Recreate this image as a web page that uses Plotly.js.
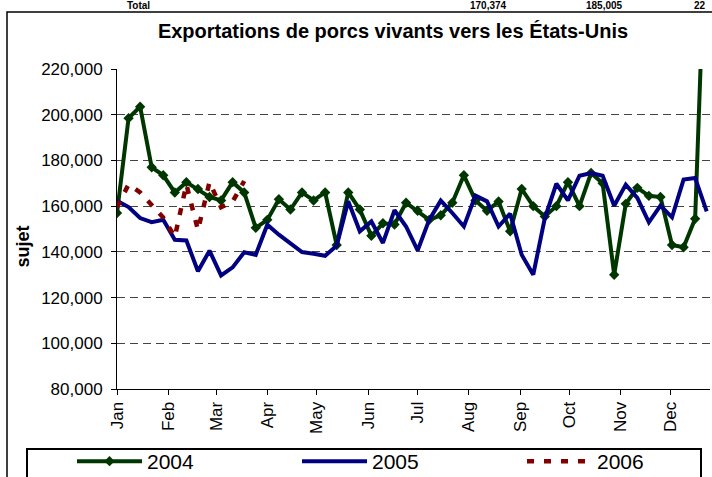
<!DOCTYPE html>
<html>
<head>
<meta charset="utf-8">
<script src="https://cdn.plot.ly/plotly-3.0.1.min.js"></script>
<style>
html,body{margin:0;padding:0;background:#fff;}
#chart{width:712px;height:477px;}
</style>
</head>
<body>
<div id="chart"></div>
<script>
// Week offsets (days from 1 January) of each weekly observation
const weekDays = [0,7,14,21,28,35,42,49,56,63,70,77,84,91,98,105,112,119,126,133,140,147,154,161,168,175,182,189,196,203,210,217,224,231,238,245,252,259,266,273,280,287,294,301,308,315,322,329,336,343,350,357];
// Month tick positions (days from 1 January, leap year) and labels
const monthDays = [0,31,60,91,121,152,182,213,244,274,305,335];
const monthLabels = ["Jan","Feb","Mar","Apr","May","Jun","Jul","Aug","Sep","Oct","Nov","Dec"];
const yTicks = [80000,100000,120000,140000,160000,180000,200000,220000];

const seriesNames = ["2004","2005","2006"];
const values2004 = [157000,198500,203500,177000,173500,166000,170500,167500,164000,162500,170500,166000,150500,
  154000,163000,158500,166000,162500,166000,143000,166000,158500,147000,152500,152000,
  161500,158000,154000,156000,161500,173500,162500,158000,162000,149000,167500,160000,
  155500,160000,170500,160000,174500,170000,130000,161000,168000,164500,164000,143000,142000,154500,296000];
const values2005 = [162400,159600,154800,153000,154000,145300,145000,131500,140500,129700,133200,139800,138700,
  151900,147500,143900,139900,139200,138300,142700,162100,149000,153300,143900,158200,
  151100,140600,154000,162400,157000,151100,164600,162100,151100,156700,138700,130000,
  154800,169800,162500,173300,174500,173300,160200,169400,163600,152900,160200,155100,171600,172300,157700];
const values2006 = [159500,169500,166000,160500,155000,146500,169500,149500,170500,159500,162000,171000];

// Texts partly visible above the chart in the source picture
const topTexts = ["Total","170,374","185,005","22"];

const titleText = "Exportations de porcs vivants vers les États-Unis";
const yTitle = "sujet";

const FONT = "Arial, 'Liberation Sans', sans-serif";

const traces = [
  {x: weekDays.slice(0, values2004.length), y: values2004, name: seriesNames[0], type: 'scatter', mode: 'lines+markers',
   line: {color: '#003600', width: 4}, marker: {symbol: 'diamond', size: 8, color: '#003600'}},
  {x: weekDays.slice(0, values2005.length), y: values2005, name: seriesNames[1], type: 'scatter', mode: 'lines',
   line: {color: '#000080', width: 4}},
  {x: weekDays.slice(0, values2006.length), y: values2006, name: seriesNames[2], type: 'scatter', mode: 'lines',
   line: {color: '#800000', width: 4.5, dash: '7px,10px'}}
];

const W = 712, H = 477, L = 117, R = 2, T = 69, B = 88;
const pw = W - L - R, ph = H - T - B;
const px = v => (v - L) / pw;         // page x -> paper x
const py = v => (H - B - v) / ph;     // page y -> paper y

const topX = [138, 488, 604, 693];
const topAnchor = ['center', 'center', 'center', 'left'];
const annotations = topTexts.map((t, i) => ({
  text: '<b>' + t + '</b>', xref: 'paper', yref: 'paper', x: px(topX[i]), y: py(12),
  xanchor: topAnchor[i], yanchor: 'bottom', borderpad: 0, showarrow: false,
  font: {family: FONT, size: 10, color: '#000'}
}));

const nb = '&nbsp;'.repeat(7);

const layout = {
  width: W, height: H,
  margin: {l: L, r: R, t: T, b: B, pad: 0, autoexpand: false},
  paper_bgcolor: '#fff', plot_bgcolor: '#fff',
  font: {family: FONT, color: '#000'},
  title: {text: '<b>' + titleText + '</b>', font: {family: FONT, size: 20, color: '#000'},
          xref: 'container', x: 393 / W, xanchor: 'center', yref: 'container', y: 1 - 31 / H, yanchor: 'middle'},
  xaxis: {range: [0, 359], tickmode: 'array', tickvals: monthDays, ticktext: monthLabels, tickangle: -90,
          showgrid: false, zeroline: false, showline: true, linecolor: '#000', linewidth: 1,
          ticks: 'outside', ticklen: 5, tickcolor: '#000', tickfont: {family: FONT, size: 17, color: '#000'}},
  yaxis: {range: [80000, 220000], tickmode: 'array', tickvals: yTicks, tickformat: ',d',
          showgrid: true, gridcolor: '#444', griddash: '8px,5px', gridwidth: 1, zeroline: false,
          showline: true, linecolor: '#000', linewidth: 1, ticks: 'outside', ticklen: 5, tickcolor: '#000',
          ticklabelstandoff: 5,
          tickfont: {family: FONT, size: 17, color: '#000'},
          title: {text: '<b>' + yTitle + '</b>' + nb, font: {family: FONT, size: 18, color: '#000'}, standoff: 6}},
  showlegend: true,
  legend: {orientation: 'h', x: px(72), xanchor: 'left', y: py(441), yanchor: 'top',
           borderwidth: 0, bgcolor: 'rgba(0,0,0,0)',
           font: {family: FONT, size: 21, color: '#000'}, itemwidth: 65,
           entrywidth: 145, entrywidthmode: 'pixels', traceorder: 'normal'},
  shapes: [
    {type: 'rect', xref: 'paper', yref: 'paper', x0: px(7), x1: px(760), y0: py(520), y1: py(12),
     line: {color: '#000', width: 1.5}, fillcolor: 'rgba(0,0,0,0)', layer: 'below'},
    {type: 'rect', xref: 'paper', yref: 'paper', x0: px(27), x1: px(701), y0: py(500), y1: py(449),
     line: {color: '#000', width: 2}, fillcolor: 'rgba(0,0,0,0)', layer: 'below'}
  ],
  annotations: annotations
};

Plotly.newPlot('chart', traces, layout, {displayModeBar: false, staticPlot: true});
</script>
</body>
</html>
